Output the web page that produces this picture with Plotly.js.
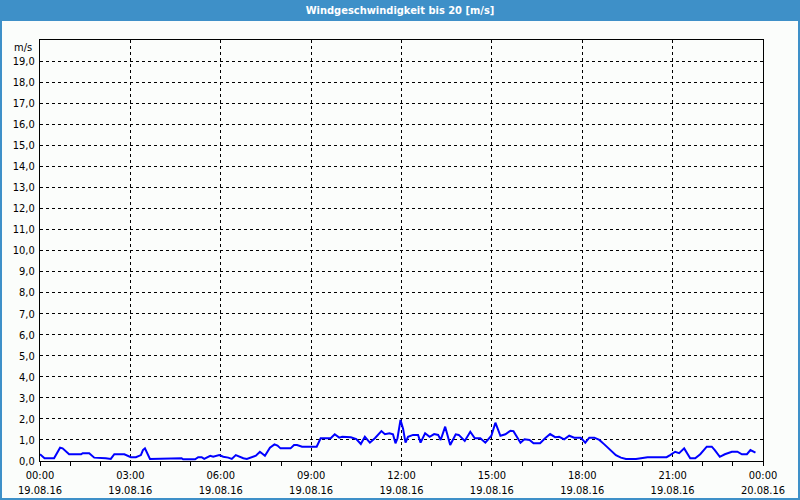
<!DOCTYPE html>
<html>
<head>
<meta charset="utf-8">
<script src="https://cdn.plot.ly/plotly-3.0.1.min.js"></script>
<style>
html,body{margin:0;padding:0;background:#fbfdfb;}
#chart{width:800px;height:500px;}
</style>
</head>
<body>
<div id="chart"></div>
<script>
// Wind speed readings on 19.08.2016 (times, m/s)
const times = [
"00:00","00:09","00:28","00:40","00:45","00:58","01:22","01:25","01:38","01:48",
"02:11","02:21","02:28","02:48","03:01","03:11","03:21","03:25","03:29","03:34",
"03:39","04:42","04:45","05:09","05:15","05:22","05:27","05:39","05:45","05:57",
"06:05","06:15","06:22","06:30","06:38","06:45","06:52","07:00","07:10","07:18",
"07:28","07:38","07:47","07:53","07:59","08:19","08:26","08:32","08:42","09:11",
"09:19","09:39","09:47","09:56","10:02","10:19","10:23","10:30","10:39","10:47",
"10:57","11:07","11:20","11:27","11:36","11:43","11:48","11:52","11:58","12:03",
"12:08","12:13","12:23","12:33","12:38","12:47","12:56","13:05","13:13","13:18",
"13:27","13:37","13:48","13:54","14:06","14:17","14:26","14:37","14:47","14:54",
"14:59","15:07","15:17","15:27","15:37","15:43","15:57","16:05","16:15","16:23",
"16:36","16:46","16:56","17:06","17:14","17:24","17:34","17:44","17:57","18:06",
"18:14","18:24","18:34","18:44","18:57","19:07","19:17","19:27","19:47","19:59",
"20:10","20:41","20:48","20:55","21:05","21:13","21:23","21:35","21:45","21:55",
"22:08","22:18","22:24","22:34","22:44","22:58","23:09","23:18","23:28","23:35",
"23:45"
];
const speed = [
0.32,0.13,0.13,0.63,0.60,0.32,0.32,0.37,0.37,0.16,
0.13,0.10,0.32,0.32,0.18,0.18,0.28,0.52,0.60,0.37,
0.10,0.13,0.08,0.08,0.18,0.18,0.10,0.25,0.20,0.28,
0.20,0.16,0.10,0.28,0.20,0.13,0.10,0.16,0.25,0.44,
0.25,0.63,0.79,0.73,0.60,0.60,0.76,0.76,0.68,0.68,
1.08,1.08,1.27,1.11,1.15,1.13,1.11,1.04,0.81,1.15,
0.87,1.08,1.42,1.27,1.32,1.27,0.84,1.08,1.95,1.55,
0.87,1.15,1.24,1.24,0.87,1.32,1.15,1.28,1.24,1.00,
1.63,0.76,1.27,1.24,0.95,1.39,1.08,1.08,0.87,1.08,
1.20,1.82,1.20,1.27,1.44,1.42,0.87,1.03,1.00,0.84,
0.84,1.08,1.28,1.13,1.15,1.03,1.20,1.11,1.11,0.87,
1.11,1.11,1.00,0.79,0.48,0.28,0.16,0.10,0.10,0.13,
0.18,0.18,0.18,0.28,0.44,0.37,0.60,0.13,0.13,0.32,
0.68,0.68,0.52,0.20,0.32,0.44,0.44,0.32,0.32,0.52,
0.40
];
const day = "2016-08-19";
const yTickVals = [0,1,2,3,4,5,6,7,8,9,10,11,12,13,14,15,16,17,18,19];
const titleText = "Windgeschwindigkeit bis 20 [m/s]";
const unitText = "m/s";

const W = 800, H = 500, L = 40, R = 37, T = 40, B = 39;
const PW = W - L - R, PH = H - T - B;
const fx = px => (px - L) / PW;
const fy = py => (H - B - py) / PH;
const blue = "#3e90c8";
const font = "'DejaVu Sans Condensed', 'Liberation Sans', sans-serif";

const x = times.map(t => day + " " + t);

const trace = {
  type: "scatter", mode: "lines",
  x: x, y: speed,
  line: {color: "#0000ff", width: 2},
  hoverinfo: "x+y"
};

const layout = {
  width: W, height: H,
  margin: {l: L, r: R, t: T, b: B, pad: 0},
  paper_bgcolor: "#fbfdfb",
  plot_bgcolor: "#fbfdfb",
  separators: ",.",
  showlegend: false,
  font: {family: font, size: 11, color: "#000"},
  title: {
    text: titleText,
    font: {family: font, size: 11, color: "#ffffff", weight: "bold"},
    xref: "container", x: 0.5, xanchor: "center",
    yref: "container", y: 1 - 10.5 / H, yanchor: "middle"
  },
  xaxis: {
    type: "date",
    range: [day + " 00:00", "2016-08-20 00:00"],
    dtick: 3 * 3600000,
    tick0: day + " 00:00",
    tickformat: "%H:%M<br>%d.%m.%y",
    ticks: "outside", ticklen: 4, tickcolor: "#000", tickwidth: 1,
    showgrid: true, gridcolor: "#000", griddash: "3px,3px", gridwidth: 1,
    minor: {dtick: 3600000, tick0: day + " 00:00", ticks: "outside", ticklen: 4, tickcolor: "#000", showgrid: false},
    showline: true, linecolor: "#000", linewidth: 1, mirror: true,
    zeroline: false,
    tickfont: {family: font, size: 11, color: "#000"},
    fixedrange: true
  },
  yaxis: {
    range: [0, 20],
    tickmode: "array",
    tickvals: yTickVals,
    tickformat: ".1f",
    ticks: "",
    showgrid: true, gridcolor: "#000", griddash: "3px,3px", gridwidth: 1,
    showline: true, linecolor: "#000", linewidth: 1, mirror: true,
    zeroline: false,
    ticklabelstandoff: 2,
    tickfont: {family: font, size: 11, color: "#000"},
    fixedrange: true
  },
  shapes: [
    {type: "rect", xref: "paper", yref: "paper", x0: fx(0), x1: fx(W), y0: fy(21), y1: fy(0),
     fillcolor: blue, line: {width: 0}, layer: "below"},
    {type: "rect", xref: "paper", yref: "paper", x0: fx(1), x1: fx(W - 1), y0: fy(H - 1), y1: fy(1),
     fillcolor: "rgba(0,0,0,0)", line: {color: blue, width: 2}, layer: "above"}
  ],
  annotations: [
    {xref: "paper", x: 0, xanchor: "right", xshift: -6,
     yref: "y", y: 20, yanchor: "middle", yshift: -7,
     text: unitText, showarrow: false, font: {family: font, size: 11, color: "#000"}}
  ]
};

Plotly.newPlot("chart", [trace], layout, {displayModeBar: false, staticPlot: true});
</script>
</body>
</html>
